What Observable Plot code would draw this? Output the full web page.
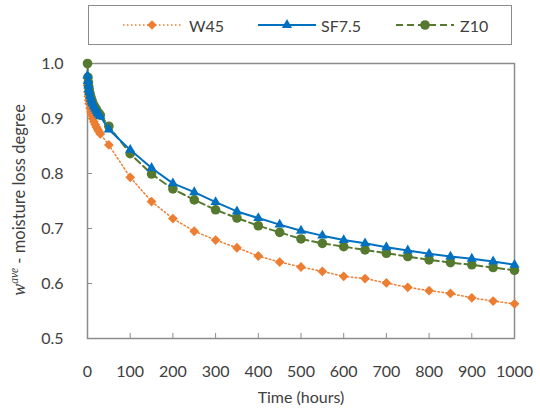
<!DOCTYPE html>
<html><head><meta charset="utf-8">
<script src="https://cdn.jsdelivr.net/npm/d3@7"></script>
<script src="https://cdn.jsdelivr.net/npm/@observablehq/plot@0.6"></script>
<style>
body{margin:0;background:#fff;font-family:Lato,sans-serif;}
#wrap{position:relative;width:540px;height:410px;background:#fff;}
#legend{position:absolute;left:88px;top:5px;width:424px;height:40px;border:1.5px solid #8c8c8c;box-sizing:border-box;}
.item{position:absolute;top:0;height:100%;display:flex;align-items:center;font-size:16px;color:#404040}
#chart{position:absolute;left:0;top:50px}
</style></head><body>
<div id="wrap"><div id="legend"></div><div id="chart"></div></div>
<script>
const hours = [0,1,2,3,4,6,8,10,12,15,18,21,24,27,30,50,100,150,200,250,300,350,400,450,500,550,600,650,700,750,800,850,900,950,1000];
const W45  = [0.960,0.948,0.940,0.933,0.927,0.919,0.912,0.906,0.900,0.894,0.889,0.884,0.880,0.876,0.872,0.852,0.793,0.749,0.718,0.695,0.679,0.665,0.650,0.639,0.630,0.622,0.613,0.609,0.601,0.593,0.587,0.582,0.574,0.568,0.563];
const SF75 = [0.978,0.968,0.960,0.953,0.948,0.941,0.936,0.931,0.927,0.922,0.918,0.914,0.910,0.907,0.904,0.880,0.843,0.810,0.782,0.766,0.748,0.731,0.719,0.707,0.696,0.687,0.679,0.673,0.666,0.660,0.654,0.649,0.645,0.640,0.634];
const Z10  = [1.000,0.975,0.966,0.958,0.952,0.945,0.939,0.934,0.929,0.924,0.920,0.916,0.912,0.909,0.906,0.886,0.836,0.799,0.772,0.752,0.734,0.719,0.705,0.693,0.681,0.673,0.667,0.661,0.655,0.649,0.643,0.638,0.634,0.629,0.624];
const seriesNames = ["W45","SF7.5","Z10"];
const xTicks = [0,100,200,300,400,500,600,700,800,900,1000];
const yTicks = [0.5,0.6,0.7,0.8,0.9,1.0];

const colors = {"W45":"#ED7D31","SF7.5":"#0070C0","Z10":"#557A2F"};
const rows = s => hours.map((t,i)=>({t, v:(s==="W45"?W45:s==="SF7.5"?SF75:Z10)[i], s}));
const dW = rows("W45"), dS = rows("SF7.5"), dZ = rows("Z10");

const plot = Plot.plot({
  width:540, height:360,
  marginTop:13, marginBottom:72, marginLeft:87, marginRight:26,
  style:{fontFamily:"Lato, sans-serif", fontSize:"16px", color:"#404040", background:"transparent"},
  x:{domain:[0,1000]},
  y:{domain:[0.5,1.0]},
  marks:[
    Plot.frame({stroke:"#8c8c8c", strokeWidth:1.5}),
    Plot.axisX({ticks:xTicks, tickSize:-5, tickPadding:32, stroke:"#8c8c8c", label:"Time (hours)", labelAnchor:"center", labelArrow:"none", labelOffset:64, tickFormat:d=>String(d)}),
    Plot.axisY({ticks:yTicks, tickSize:-5, tickPadding:29, stroke:"#8c8c8c", tickFormat:".1f", label:null}),
    Plot.line(dW, {x:"t", y:"v", stroke:colors["W45"], strokeWidth:1.5, strokeDasharray:"1.5,2.5"}),
    Plot.dot(dW, {x:"t", y:"v", symbol:"diamond2", r:4.4, fill:colors["W45"], stroke:"none"}),
    Plot.line(dZ, {x:"t", y:"v", stroke:colors["Z10"], strokeWidth:2, strokeDasharray:"7,4"}),
    Plot.dot(dZ, {x:"t", y:"v", symbol:"circle", r:4.8, fill:colors["Z10"]}),
    Plot.line(dS, {x:"t", y:"v", stroke:colors["SF7.5"], strokeWidth:2}),
    Plot.dot(dS, {x:"t", y:"v", symbol:"triangle", r:3.8, fill:colors["SF7.5"]})
  ]
});
document.getElementById("chart").appendChild(plot);

// y-axis title with italic w and superscript
const t = d3.select(plot).append("text")
  .attr("transform","translate(25,150) rotate(-90)")
  .attr("text-anchor","middle")
  .attr("fill","#404040")
  .style("font-size","16.5px");
t.append("tspan").attr("font-style","italic").attr("font-family","Liberation Serif, serif").style("font-size","18px").text("w");
t.append("tspan").attr("dy","-7").attr("font-style","italic").attr("font-family","Liberation Serif, serif").style("font-size","11.5px").text("ave");
t.append("tspan").attr("dy","7").text(" - moisture loss degree");

// legend
const lg = d3.select("#legend");
const pos = {"W45":[34,100],"SF7.5":[169,232],"Z10":[307,371]};
const dashes = {"W45":"1.5,2.5","SF7.5":null,"Z10":"7,4"};
seriesNames.forEach(s=>{
  const [sx,lx] = pos[s];
  const sv = lg.append("svg").style("position","absolute").style("left",sx+"px").style("top","12px")
    .attr("width",60).attr("height",14);
  sv.append("line").attr("x1",0).attr("x2",58).attr("y1",7).attr("y2",7)
    .attr("stroke",colors[s]).attr("stroke-width",s==="W45"?1.5:2).attr("stroke-dasharray",dashes[s]);
  const sym = s==="W45"?d3.symbolDiamond2:s==="SF7.5"?d3.symbolTriangle:d3.symbolCircle;
  const size = s==="W45"?55:s==="SF7.5"?45:72;
  sv.append("path").attr("transform","translate(29,7)").attr("d",d3.symbol(sym,size)()).attr("fill",colors[s]);
  lg.append("div").attr("class","item").style("left",lx+"px").text(s);
});
</script>
</body></html>
